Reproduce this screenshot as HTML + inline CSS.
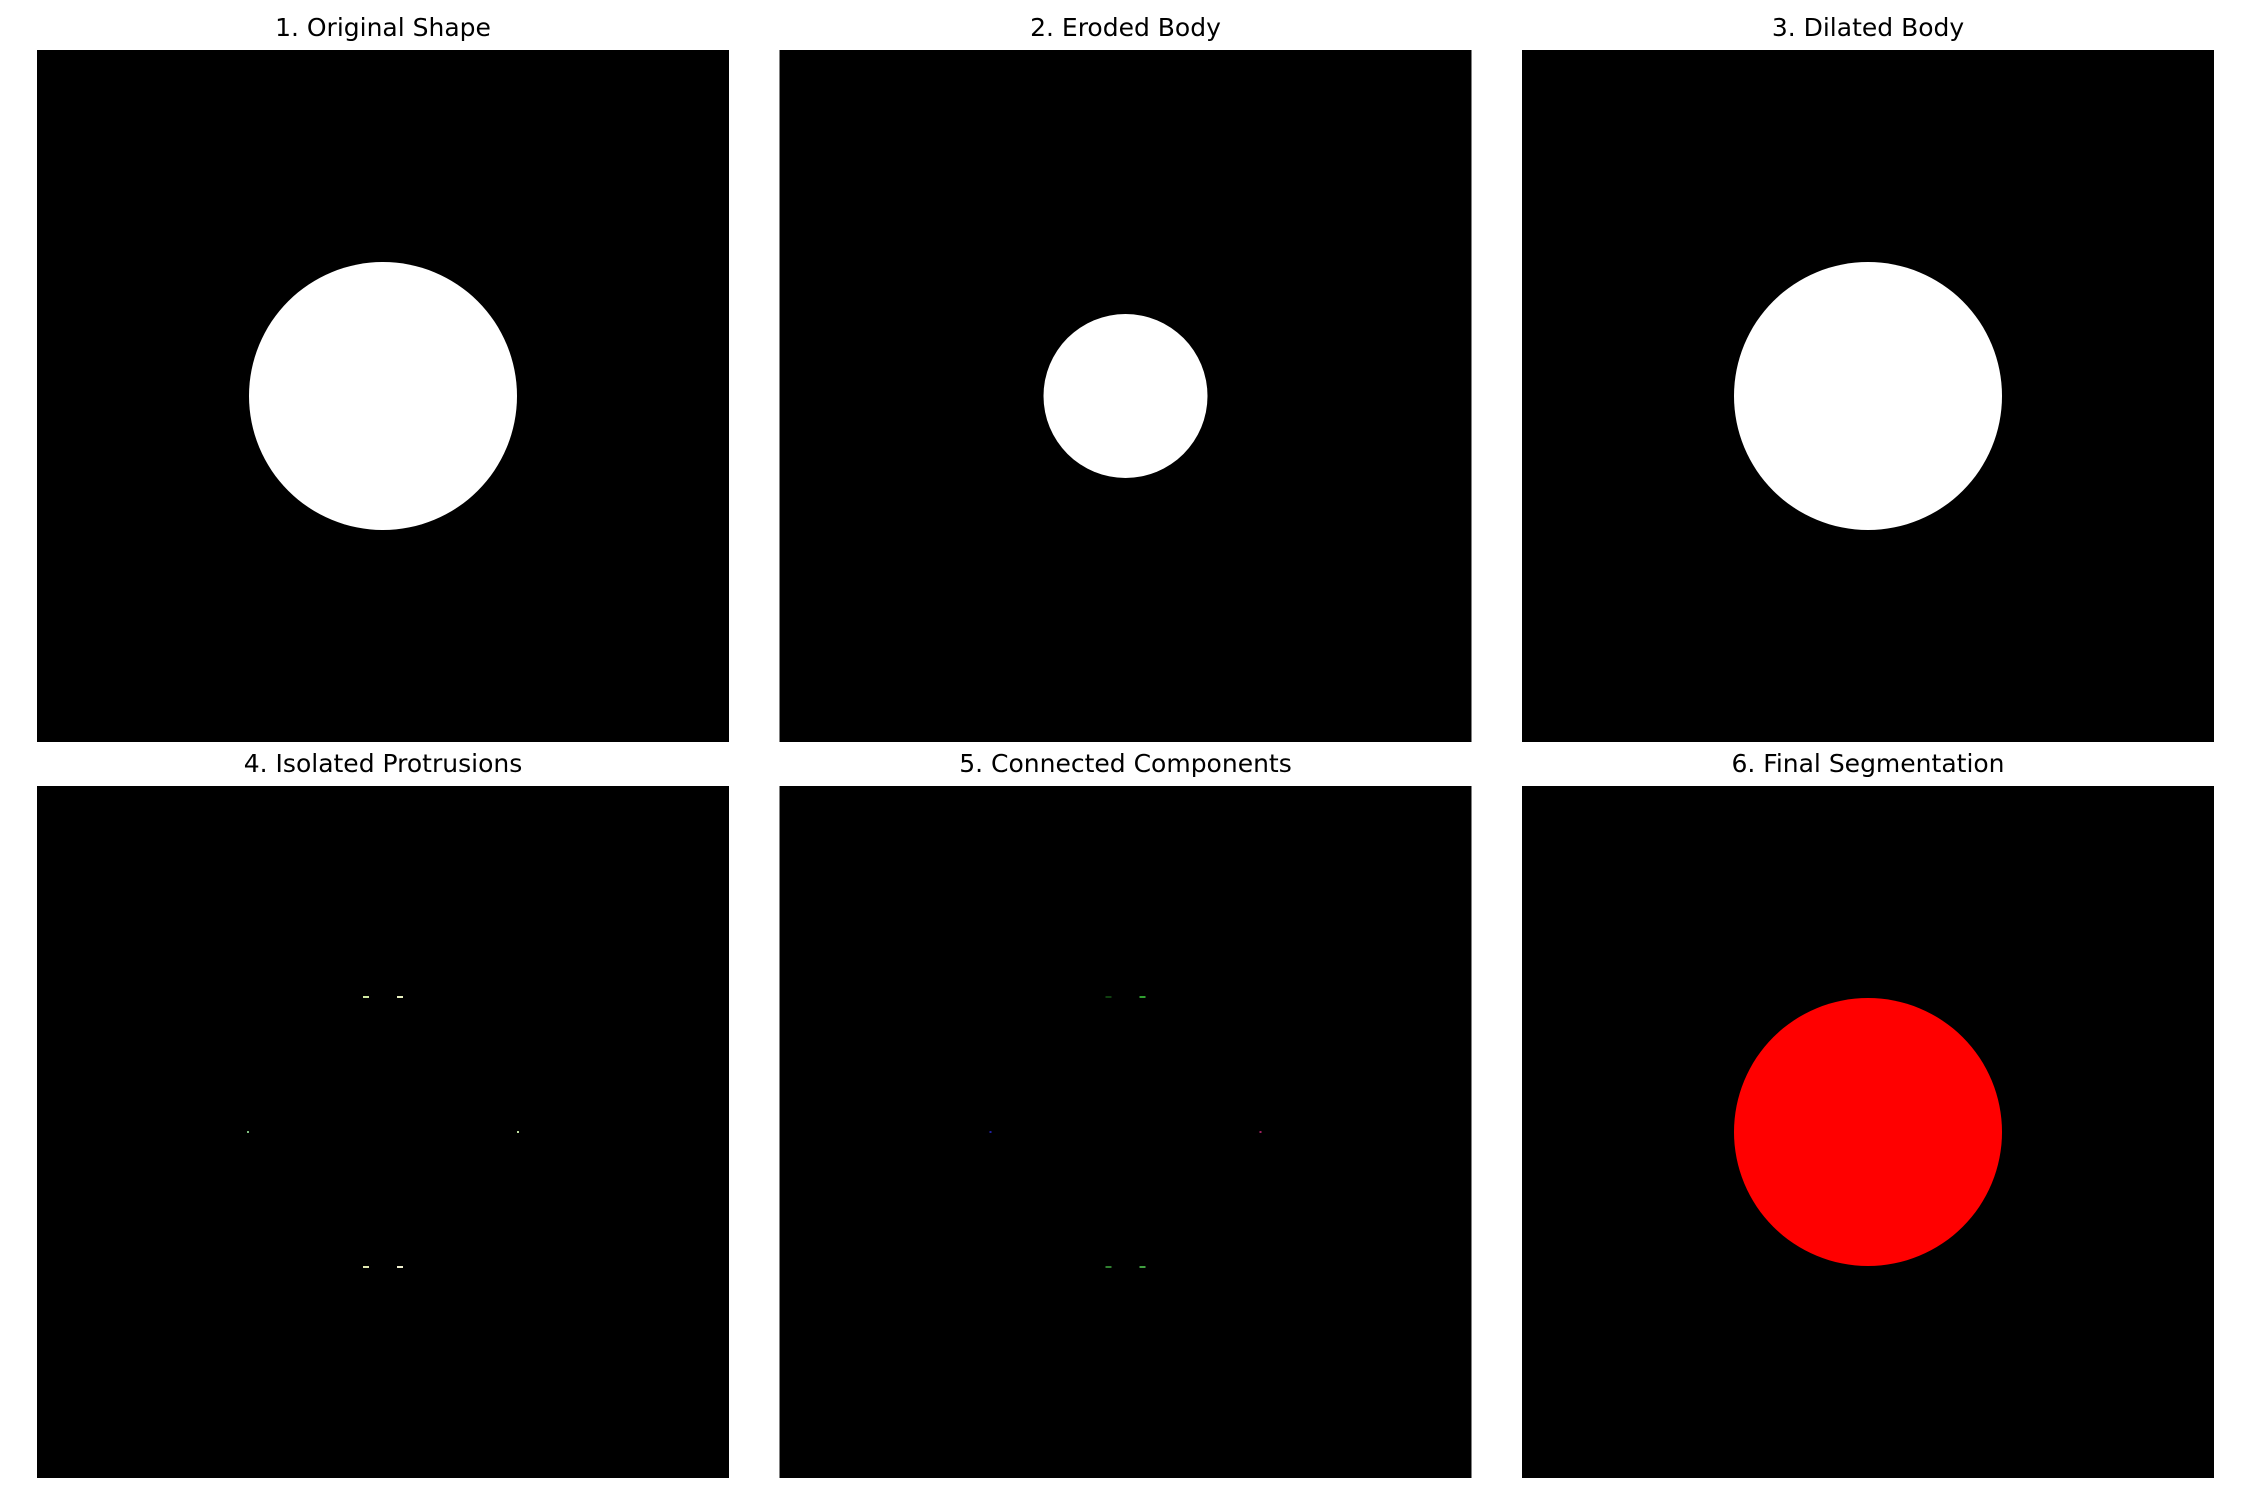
<!DOCTYPE html>
<html><head><meta charset="utf-8"><style>
body{margin:0;background:#fff;}
svg{display:block;font-family:"DejaVu Sans","Liberation Sans",sans-serif;}
</style></head><body>
<svg id="fig" width="2250" height="1500" viewBox="0 0 2250 1500"></svg>
<script>
const titles=["1. Original Shape","2. Eroded Body","3. Dilated Body","4. Isolated Protrusions","5. Connected Components","6. Final Segmentation"];
const circleRadius=[134,82,134,0,0,134];
const circleColor=["#fff","#fff","#fff","#000","#000","#f00"];
const dotsP4X=[-17,17,-17,17,-135,135];
const dotsP4Y=[-135,-135,135,135,0,0];
const dotsP4C=["#cfe8a0","#e8f0c0","#e0e8b0","#f0f0d0","#80c080","#c0e0a0"];
const dotsP5C=["#104010","#30a030","#308030","#40a040","#2020a0","#a02060"];
const NS="http://www.w3.org/2000/svg";
const svg=document.getElementById('fig');
const colX=i=>37+(i%3)*742.5, rowY=i=>50+Math.floor(i/3)*736, S=692;
function mk(t,a){const e=document.createElementNS(NS,t);for(const k in a)e.setAttribute(k,a[k]);svg.appendChild(e);return e;}
titles.forEach((t,i)=>{
  const x=colX(i),y=rowY(i),cx=x+S/2,cy=y+S/2;
  const r=mk('rect',{x:x,y:y,width:S,height:S,fill:'#000'});
  
  
  const tx=mk('text',{x:cx,y:y-14,'text-anchor':'middle','font-size':25,fill:'#000'});
  tx.textContent=t;
  
  
  if(circleRadius[i]>0){
    const c=mk('circle',{cx:cx,cy:cy,r:circleRadius[i],fill:circleColor[i]});
    
    
  }
  if(i===3||i===4){
    dotsP4X.forEach((dx,j)=>{
      const horiz=dotsP4Y[j]!==0;
      const d=mk('rect',{x:cx+dx-(horiz?3:1),y:cy+dotsP4Y[j]-1,width:horiz?6:2,height:2,fill:(i===3?dotsP4C:dotsP5C)[j]});
      
      
    });
  }
});
</script>
</body></html>
